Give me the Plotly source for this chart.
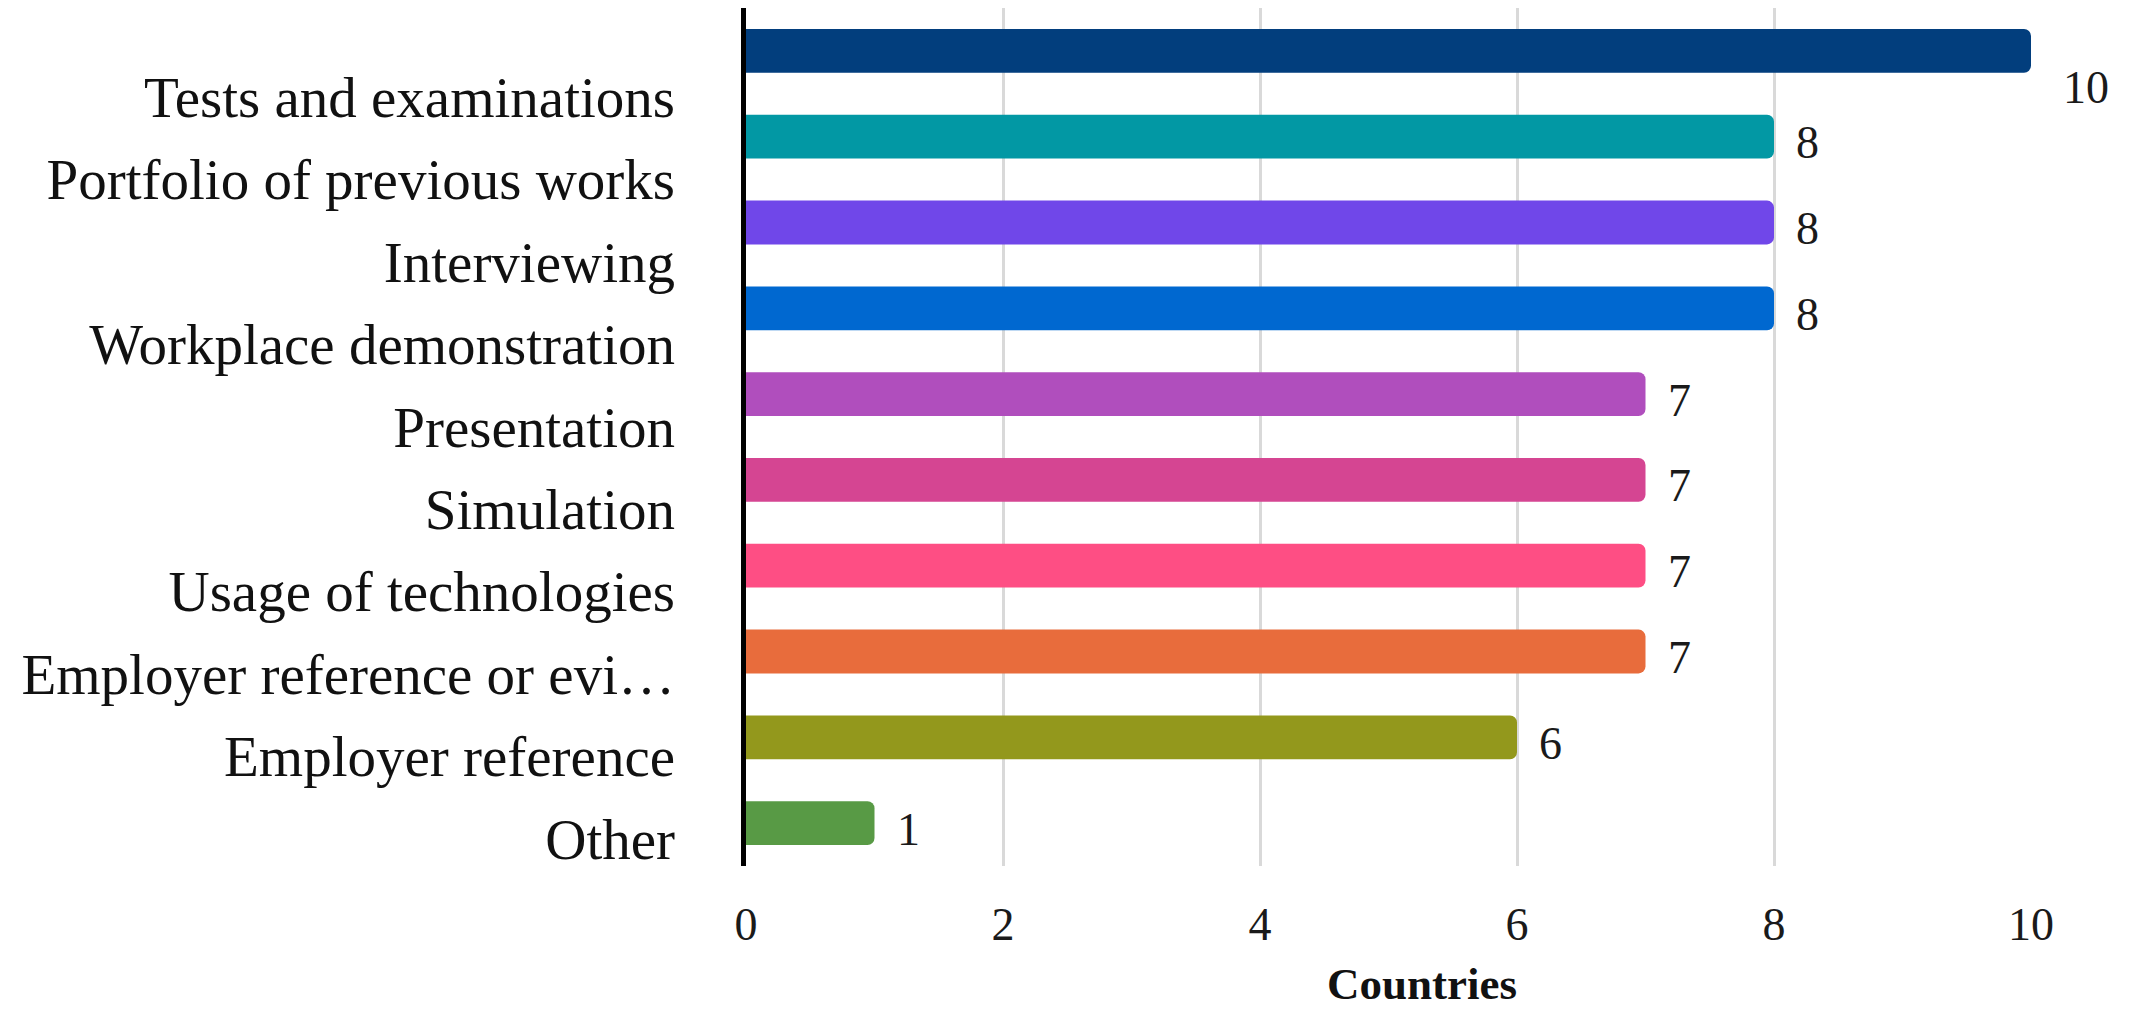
import plotly.graph_objects as go

# Assessment methods and the number of countries using each
methods = [
    "Tests and examinations",
    "Portfolio of previous works",
    "Interviewing",
    "Workplace demonstration",
    "Presentation",
    "Simulation",
    "Usage of technologies",
    "Employer reference or evi…",
    "Employer reference",
    "Other",
]
countries = [10, 8, 8, 8, 7, 7, 7, 7, 6, 1]
bar_colors = [
    "#023e7d", "#0298a4", "#7047e9", "#0068d0", "#b04ebd",
    "#d54592", "#fe4e84", "#e86c3c", "#93981c", "#589a45",
]
x_ticks = [0, 2, 4, 6, 8, 10]

FONT = "Liberation Serif, Times New Roman, serif"

fig = go.Figure()
fig.add_trace(go.Bar(
    x=countries,
    y=methods,
    orientation="h",
    marker=dict(color=bar_colors, line=dict(width=0)),
    hoverinfo="x+y",
    showlegend=False,
))
# empty carrier so the label axis gets drawn
fig.add_trace(go.Scatter(
    x=countries,
    y=list(range(len(methods))),
    yaxis="y2",
    mode="none",
    hoverinfo="skip",
    showlegend=False,
))

# value labels just past each bar end; the longest one sits below its bar
annotations = []
for m, v in zip(methods, countries):
    top = v == max(countries)
    annotations.append(dict(
        x=v, y=m, xref="x", yref="y",
        text=str(v), showarrow=False,
        xanchor="left", yanchor="middle",
        xshift=30 if top else 20,
        yshift=-37 if top else -6,
        font=dict(family=FONT, size=46, color="#1a1a1a"),
    ))

annotations.append(dict(
    text="<b>Countries</b>", showarrow=False,
    xref="paper", yref="paper", x=0.526, y=-0.138,
    xanchor="center", yanchor="middle",
    font=dict(family=FONT, size=45, color="#111"),
))

fig.update_layout(
    width=2134, height=1013, autosize=False,
    margin=dict(l=746, r=103, t=8, b=147),
    paper_bgcolor="white", plot_bgcolor="white",
    bargap=0.49,
    barcornerradius=7,
    annotations=annotations,
    xaxis=dict(
        range=[0, 10],
        tickvals=x_ticks,
        showgrid=True, gridcolor="#d9d9d9", gridwidth=3,
        zeroline=False, showline=False,
        ticks="", ticklabelstandoff=27,
        tickfont=dict(family=FONT, size=46, color="#1a1a1a"),
    ),
    yaxis=dict(
        type="category",
        categoryorder="array", categoryarray=methods,
        range=[9.5, -0.5],
        showticklabels=False, showgrid=False, zeroline=False,
        showline=True, linecolor="black", linewidth=5,
    ),
    # category names drawn on a companion axis
    yaxis2=dict(
        overlaying="y", anchor="x", side="left",
        range=[9.33, -1.08],
        tickmode="array",
        tickvals=list(range(len(methods))),
        ticktext=methods,
        showgrid=False, zeroline=False, showline=False,
        ticks="", ticklabelstandoff=70,
        tickfont=dict(family=FONT, size=57, color="#111"),
    ),
)

fig.write_html("out.html")
